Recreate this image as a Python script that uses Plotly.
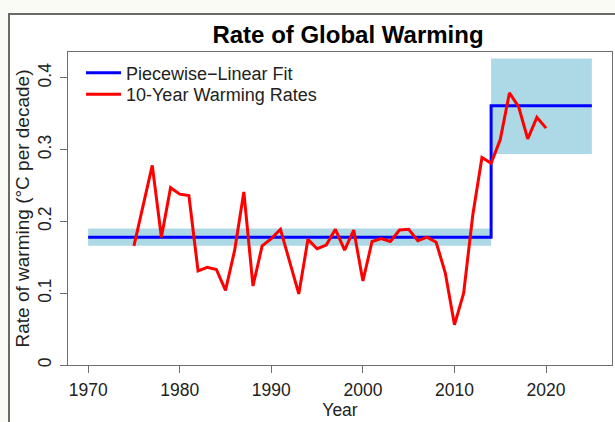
import plotly.graph_objects as go

# ---- data ----
years = [1975, 1976, 1977, 1978, 1979, 1980, 1981, 1982, 1983, 1984,
         1985, 1986, 1987, 1988, 1989, 1990, 1991, 1992, 1993, 1994,
         1995, 1996, 1997, 1998, 1999, 2000, 2001, 2002, 2003, 2004,
         2005, 2006, 2007, 2008, 2009, 2010, 2011, 2012, 2013, 2014,
         2015, 2016, 2017, 2018, 2019, 2020]
rates = [0.166, 0.222, 0.278, 0.178, 0.247, 0.238, 0.236, 0.131, 0.136, 0.133,
         0.104, 0.160, 0.241, 0.110, 0.166, 0.176, 0.189, 0.144, 0.099, 0.175,
         0.162, 0.167, 0.189, 0.160, 0.188, 0.117, 0.172, 0.176, 0.172, 0.188,
         0.189, 0.173, 0.178, 0.171, 0.128, 0.056, 0.100, 0.209, 0.289, 0.281,
         0.314, 0.379, 0.360, 0.315, 0.345, 0.330]

fit_x = [1970, 2014, 2014, 2025]
fit_y = [0.178, 0.178, 0.361, 0.361]

band_start = [1970, 2014]
band_end = [2014, 2025]
band_lo = [0.166, 0.294]
band_hi = [0.190, 0.427]

x_ticks = [1970, 1980, 1990, 2000, 2010, 2020]
y_ticks = [0, 0.1, 0.2, 0.3, 0.4]
y_tick_labels = ["0", "0.1", "0.2", "0.3", "0.4"]

FONT = "Liberation Sans, Arial, sans-serif"
GREY = "#6e6e6e"

fig = go.Figure()

for x0, x1, lo, hi in zip(band_start, band_end, band_lo, band_hi):
    fig.add_trace(go.Scatter(
        x=[x0, x1, x1, x0, x0], y=[lo, lo, hi, hi, lo],
        mode="lines", fill="toself", fillcolor="#ADD8E6",
        line=dict(width=0, color="#ADD8E6"),
        showlegend=False, hoverinfo="skip"))

fig.add_trace(go.Scatter(x=fit_x, y=fit_y, mode="lines",
                         name="Piecewise\u2212Linear Fit", legend="legend",
                         line=dict(color="#0000FF", width=3)))
fig.add_trace(go.Scatter(x=years, y=rates, mode="lines",
                         name="10-Year Warming Rates", legend="legend2",
                         line=dict(color="#FF0000", width=3)))

# plot area: x 68..612 px, y 52..365 px
L, R_, T, B = 68, 612, 52, 365
W, H = 615, 422
pw, ph = R_ - L, B - T

def px2x(px):
    return (px - L) / pw

def py2y(py):
    return (B - py) / ph

shapes = [
    # off-white outside the window frame
    dict(type="rect", xref="paper", yref="paper", x0=px2x(0), x1=px2x(8),
         y0=py2y(H), y1=py2y(0), fillcolor="#fbfbf6", line=dict(width=0), layer="below"),
    dict(type="rect", xref="paper", yref="paper", x0=px2x(0), x1=px2x(W),
         y0=py2y(13), y1=py2y(0), fillcolor="#fbfbf6", line=dict(width=0), layer="below"),
    # frame lines
    dict(type="line", xref="paper", yref="paper", x0=px2x(9), x1=px2x(9),
         y0=py2y(H), y1=py2y(13), line=dict(color="#6a6a6a", width=2), layer="above"),
    dict(type="line", xref="paper", yref="paper", x0=px2x(8), x1=px2x(W),
         y0=py2y(14), y1=py2y(14), line=dict(color="#6a6a6a", width=2), layer="above"),
]

legend_common = dict(x=px2x(81), xanchor="left", yanchor="top",
                     bgcolor="rgba(0,0,0,0)", font=dict(size=18, color="#222222"),
                     itemwidth=35)

fig.update_layout(
    width=W, height=H,
    margin=dict(l=L, r=W - R_, t=T, b=H - B, pad=0, autoexpand=False),
    paper_bgcolor="white", plot_bgcolor="white",
    font=dict(family=FONT, size=17.5, color="#222222"),
    title=dict(text="<b>Rate of Global Warming</b>", font=dict(size=24, color="black"),
               x=348 / W, xref="container", xanchor="center",
               y=1 - 35 / H, yref="container", yanchor="middle"),
    showlegend=True,
    legend=dict(y=py2y(54.5), **legend_common),
    legend2=dict(y=py2y(76), **legend_common),
    shapes=shapes,
)

fig.update_xaxes(range=[1967.8, 2027.2], tickmode="array", tickvals=x_ticks,
                 ticks="outside", ticklen=7, tickcolor=GREY, tickwidth=1,
                 showline=True, linecolor=GREY, linewidth=1, mirror=True,
                 showgrid=False, zeroline=False, automargin=False,
                 ticklabelstandoff=2,
                 title=dict(text="Year", standoff=0, font=dict(size=17.5)),
                 tickfont=dict(size=17.5))
fig.update_yaxes(range=[0, 0.436], tickmode="array", tickvals=y_ticks,
                 ticktext=y_tick_labels, tickangle=-90,
                 ticks="outside", ticklen=7, tickcolor=GREY, tickwidth=1,
                 showline=True, linecolor=GREY, linewidth=1, mirror=True,
                 showgrid=False, zeroline=False, automargin=False,
                 ticklabelstandoff=2,
                 title=dict(text="Rate of warming (\u00b0C per decade)", standoff=0,
                            font=dict(size=19)),
                 tickfont=dict(size=17.5))

fig.write_html("out.html", config={"displayModeBar": False},
               post_script="document.body.style.margin='0';")
